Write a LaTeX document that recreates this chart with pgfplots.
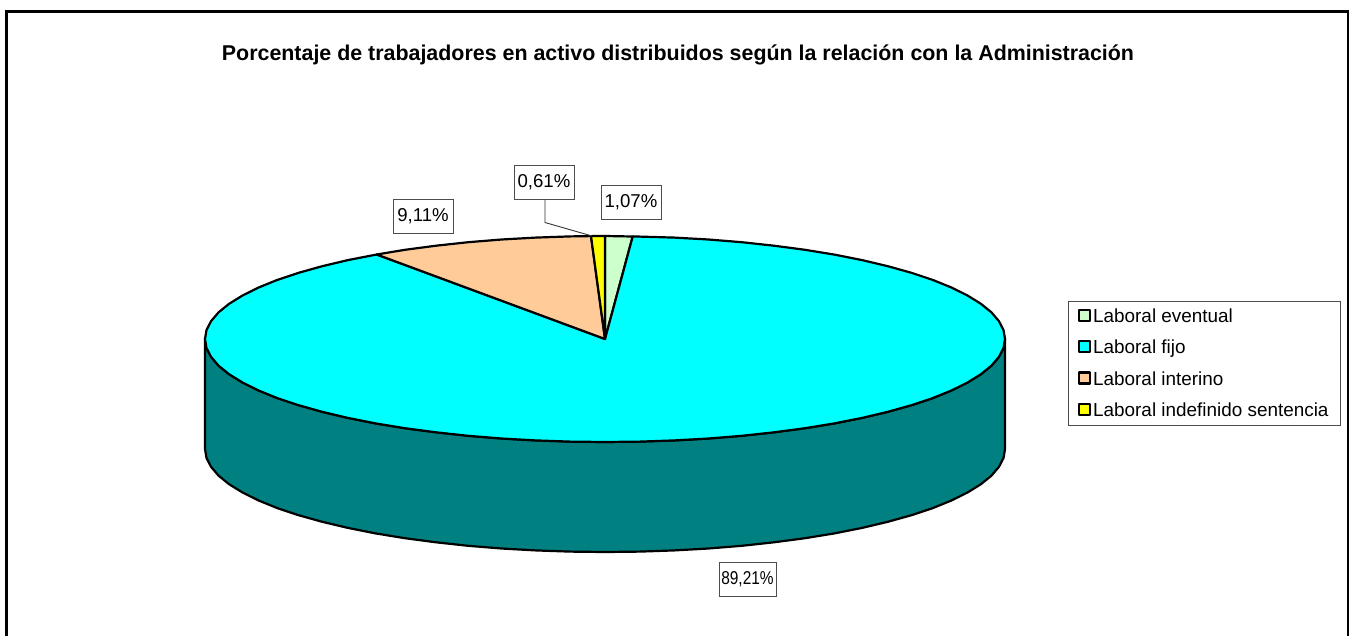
\documentclass[border=0pt]{standalone}
\usepackage{fontspec}
\setmainfont{Liberation Sans}
\usepackage{graphicx}
\usepackage{pgfplots}
\pgfplotsset{compat=1.18}
\definecolor{cEvent}{HTML}{CCFFCC}
\definecolor{cFijo}{HTML}{00FFFF}
\definecolor{cInter}{HTML}{FFCC99}
\definecolor{cIndef}{HTML}{FFFF00}
\definecolor{cWall}{HTML}{008080}
\begin{document}
\begin{tikzpicture}[lab/.style={draw=black!70,fill=white,line width=0.9pt,inner sep=0pt,font=\fontsize{18.6}{22}\selectfont}]
\useasboundingbox (0,0) rectangle (1351pt,635pt);
\begin{axis}[
  at={(0,0)},anchor=south west,
  scale only axis,width=1351pt,height=635pt,
  xmin=0,xmax=1351,ymin=0,ymax=635,y dir=reverse,
  hide axis,clip=false,
  legend image code/.code={\draw[#1,line width=2.2pt] (0pt,-4.5pt) rectangle (11pt,6.5pt);},
  legend cell align=left,
  legend style={at={(axis cs:1068,301)},anchor=north west,draw=black!70,line width=0.9pt,
    font=\fontsize{18.9}{22}\selectfont,inner xsep=9.5pt,inner ysep=5.5pt,
    /tikz/every even column/.style={column sep=5pt},
    row sep=12pt},
]
% chart frame
\addplot[forget plot,black,line width=2.2pt] coordinates {(6.5,640) (6.5,11.5) (1348,11.5) (1348,640)};
% wall of the large slice
\addplot[forget plot,fill=cWall,draw=black,line width=2.2pt,line join=round] coordinates {
(1005,339) (1003.5,348) (998.9,356.9) (991.4,365.7) (980.9,374.2) (967.5,382.5) (951.4,390.5) (932.7,398.1) (911.4,405.2) (887.8,411.8) (862.1,417.9) (834.4,423.4) (805,428.2) (774,432.3) (741.8,435.8) (708.5,438.5) (674.5,440.4) (639.9,441.6) (605,442)
(570.1,441.6) (535.5,440.4) (501.5,438.5) (468.2,435.8) (436,432.3) (405,428.2) (375.6,423.4) (347.9,417.9) (322.2,411.8) (298.6,405.2) (277.3,398.1) (258.6,390.5) (242.5,382.5) (229.1,374.2) (218.6,365.7) (211.1,356.9) (206.5,348) (205,339)
(205,449) (206.5,458) (211.1,466.9) (218.6,475.7) (229.1,484.2) (242.5,492.5) (258.6,500.5) (277.3,508.1) (298.6,515.2) (322.2,521.8) (347.9,527.9) (375.6,533.4) (405,538.2) (436,542.3) (468.2,545.8) (501.5,548.5) (535.5,550.4) (570.1,551.6) (605,552)
(639.9,551.6) (674.5,550.4) (708.5,548.5) (741.8,545.8) (774,542.3) (805,538.2) (834.4,533.4) (862.1,527.9) (887.8,521.8) (911.4,515.2) (932.7,508.1) (951.4,500.5) (967.5,492.5) (980.9,484.2) (991.4,475.7) (998.9,466.9) (1003.5,458) (1005,449)
} -- cycle;
% Laboral eventual
\addplot[fill=cEvent,draw=black,line width=2.2pt,line join=round] coordinates {(605,339) (605,236) (632.7,236.5)} -- cycle;
\addlegendentry{Laboral eventual}
% Laboral fijo
\addplot[fill=cFijo,draw=black,line width=2.2pt,line join=round] coordinates {
(605,339) (632.7,236.5) (639.9,236.6) (674.5,237.6) (708.5,239.5) (741.8,242.2) (774,245.7) (805,249.8) (834.4,254.6) (862.1,260.1) (887.8,266.2) (911.4,272.8) (932.7,279.9) (951.4,287.5) (967.5,295.5) (980.9,303.8) (991.4,312.3) (998.9,321.1) (1003.5,330) (1005,339)
(1003.5,348) (998.9,356.9) (991.4,365.7) (980.9,374.2) (967.5,382.5) (951.4,390.5) (932.7,398.1) (911.4,405.2) (887.8,411.8) (862.1,417.9) (834.4,423.4) (805,428.2) (774,432.3) (741.8,435.8) (708.5,438.5) (674.5,440.4) (639.9,441.6) (605,442)
(570.1,441.6) (535.5,440.4) (501.5,438.5) (468.2,435.8) (436,432.3) (405,428.2) (375.6,423.4) (347.9,417.9) (322.2,411.8) (298.6,405.2) (277.3,398.1) (258.6,390.5) (242.5,382.5) (229.1,374.2) (218.6,365.7) (211.1,356.9) (206.5,348) (205,339)
(206.5,330) (211.1,321.1) (218.6,312.3) (229.1,303.8) (242.5,295.5) (258.6,287.5) (277.3,279.9) (298.6,272.8) (322.2,266.2) (347.9,260.1) (376.7,254.5)
} -- cycle;
\addlegendentry{Laboral fijo}
% Laboral interino
\addplot[fill=cInter,draw=black,line width=2.2pt,line join=round] coordinates {
(605,339) (376.7,254.5) (405,249.8) (436,245.7) (468.2,242.2) (501.5,239.5) (535.5,237.6) (570.1,236.4) (591,236.1)
} -- cycle;
\addlegendentry{Laboral interino}
% Laboral indefinido sentencia
\addplot[fill=cIndef,draw=black,line width=2.2pt,line join=round] coordinates {(605,339) (591,236.1) (605,236)} -- cycle;
\addlegendentry{Laboral indefinido sentencia}
% leader line
\addplot[forget plot,black!80,line width=0.9pt] coordinates {(545,199) (545,222.5) (592,236)};
\node[font=\fontsize{21.4}{25}\selectfont\bfseries] at (axis cs:678,54.5) {Porcentaje de trabajadores en activo distribuidos según la relación con la Administración};
\node[lab,minimum width=60pt,minimum height=34pt] at (axis cs:631,202) {1,07\%};
\node[lab,minimum width=60pt,minimum height=34pt] at (axis cs:544,182) {0,61\%};
\node[lab,minimum width=60pt,minimum height=34pt] at (axis cs:423,216.5) {9,11\%};
\node[lab,minimum width=57pt,minimum height=34pt] at (axis cs:747.5,579.5) {\scalebox{0.83}[1]{89,21\%}};
\end{axis}
\end{tikzpicture}
\end{document}
